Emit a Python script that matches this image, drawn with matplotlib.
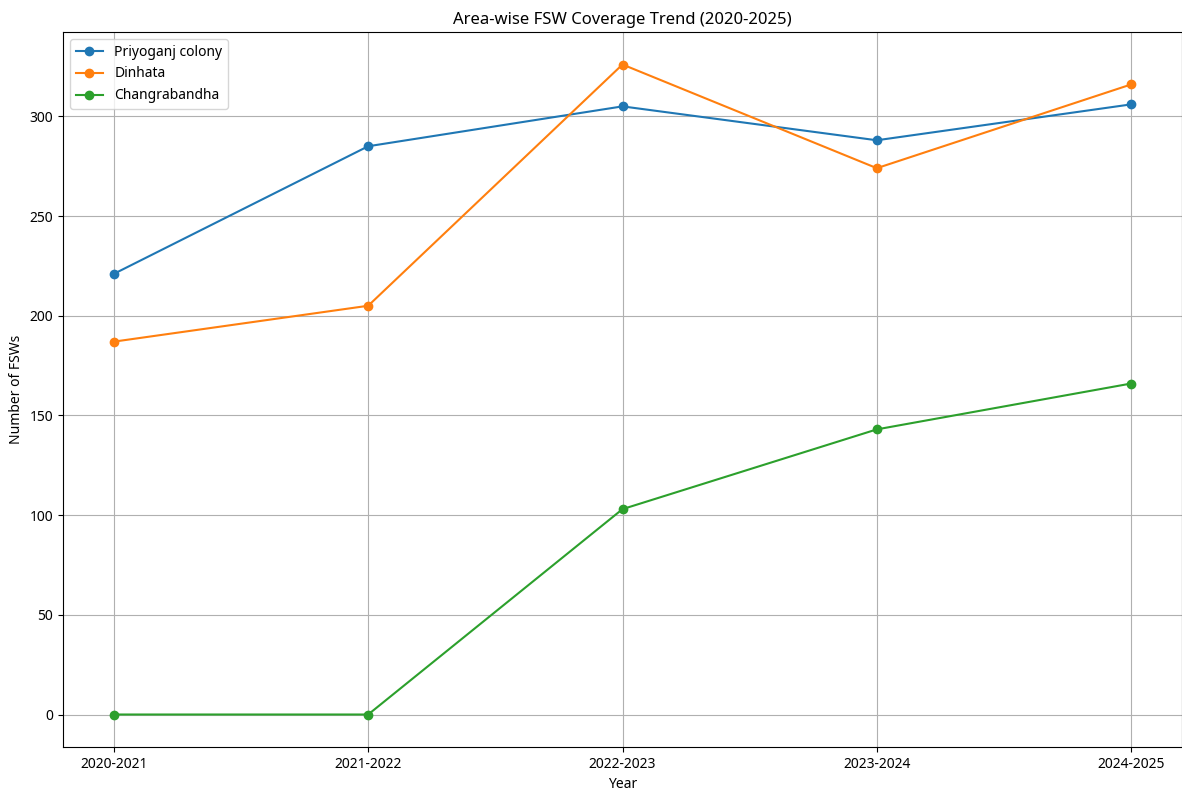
import matplotlib
matplotlib.use('Agg')
import matplotlib.pyplot as plt

plt.rcParams['font.family'] = ['Noto Sans', 'DejaVu Sans']

years = ['2020-2021', '2021-2022', '2022-2023', '2023-2024', '2024-2025']
priyoganj = [221, 285, 305, 288, 306]
dinhata = [187, 205, 326, 274, 316]
changrabandha = [0, 0, 103, 143, 166]

fig = plt.figure(figsize=(11.82, 7.91), dpi=100)
ax = fig.add_axes([63 / 1182, 1 - 747 / 791, (1182 - 63) / 1182, (747 - 32) / 791])

ax.plot(years, priyoganj, marker='o', label='Priyoganj colony')
ax.plot(years, dinhata, marker='o', label='Dinhata')
ax.plot(years, changrabandha, marker='o', label='Changrabandha')

ax.set_title('Area-wise FSW Coverage Trend (2020-2025)')
ax.set_xlabel('Year')
ax.set_ylabel('Number of FSWs')
ax.legend(loc='upper left')
ax.grid(True)

fig.savefig('out.png', dpi=100)
